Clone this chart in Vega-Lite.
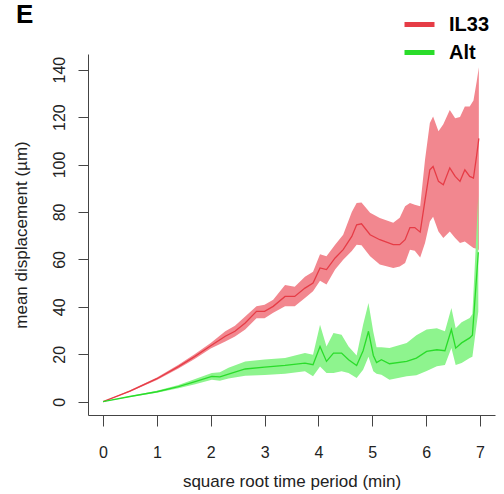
{
  "$schema": "https://vega.github.io/schema/vega-lite/v6.json",
  "width": 407,
  "height": 361,
  "autosize": "none",
  "padding": {"left": 88, "top": 54, "right": 9, "bottom": 79},
  "background": "white",
  "config": {"view": {"stroke": null}, "font": "Liberation Sans"},
  "title": {"text": "E", "anchor": "start", "frame": "group", "fontSize": 26, "fontWeight": "bold", "font": "Liberation Sans", "color": "black", "baseline": "alphabetic", "offset": 0, "dx": -72, "dy": 42},
  "data": {"values": [
    {"t": 0, "group": "IL33", "m": 0, "lo": 0, "hi": 0},
    {"t": 0.5, "group": "IL33", "m": 4.5, "lo": 4.2, "hi": 4.8},
    {"t": 1.0, "group": "IL33", "m": 9.7, "lo": 9.2, "hi": 10.2},
    {"t": 1.4, "group": "IL33", "m": 14.8, "lo": 14, "hi": 15.6},
    {"t": 1.7, "group": "IL33", "m": 19, "lo": 18, "hi": 20},
    {"t": 2.0, "group": "IL33", "m": 23.6, "lo": 22.4, "hi": 24.8},
    {"t": 2.27, "group": "IL33", "m": 27.6, "lo": 25.4, "hi": 29.7},
    {"t": 2.45, "group": "IL33", "m": 29.7, "lo": 27.5, "hi": 32},
    {"t": 2.64, "group": "IL33", "m": 33.2, "lo": 30.4, "hi": 35.9},
    {"t": 2.85, "group": "IL33", "m": 38.1, "lo": 35.2, "hi": 40.2},
    {"t": 3.0, "group": "IL33", "m": 38.1, "lo": 35.2, "hi": 40.9},
    {"t": 3.16, "group": "IL33", "m": 40.2, "lo": 37.5, "hi": 43},
    {"t": 3.38, "group": "IL33", "m": 44.4, "lo": 40.2, "hi": 49.2},
    {"t": 3.56, "group": "IL33", "m": 44.4, "lo": 40.2, "hi": 48.5},
    {"t": 3.75, "group": "IL33", "m": 47.9, "lo": 43.7, "hi": 52.7},
    {"t": 3.9, "group": "IL33", "m": 50, "lo": 46.6, "hi": 54.8},
    {"t": 4.03, "group": "IL33", "m": 56.4, "lo": 51, "hi": 62.2},
    {"t": 4.15, "group": "IL33", "m": 55.7, "lo": 49.4, "hi": 61.3},
    {"t": 4.31, "group": "IL33", "m": 60.6, "lo": 55.7, "hi": 66.2},
    {"t": 4.46, "group": "IL33", "m": 64.1, "lo": 59.9, "hi": 70.4},
    {"t": 4.62, "group": "IL33", "m": 69.7, "lo": 63.5, "hi": 80},
    {"t": 4.71, "group": "IL33", "m": 74.6, "lo": 66.2, "hi": 83.8},
    {"t": 4.8, "group": "IL33", "m": 75, "lo": 66, "hi": 84},
    {"t": 4.96, "group": "IL33", "m": 70.4, "lo": 61.3, "hi": 79.7},
    {"t": 5.14, "group": "IL33", "m": 68.3, "lo": 57.8, "hi": 77.5},
    {"t": 5.39, "group": "IL33", "m": 66.2, "lo": 56.4, "hi": 75.5},
    {"t": 5.51, "group": "IL33", "m": 66.2, "lo": 57, "hi": 77.6},
    {"t": 5.61, "group": "IL33", "m": 68.3, "lo": 58.5, "hi": 82.4},
    {"t": 5.7, "group": "IL33", "m": 73.4, "lo": 64.1, "hi": 83.8},
    {"t": 5.79, "group": "IL33", "m": 73.4, "lo": 63.6, "hi": 83},
    {"t": 5.89, "group": "IL33", "m": 71.5, "lo": 60.8, "hi": 82.4},
    {"t": 5.98, "group": "IL33", "m": 85, "lo": 66.9, "hi": 102},
    {"t": 6.07, "group": "IL33", "m": 97.8, "lo": 76, "hi": 117.5},
    {"t": 6.13, "group": "IL33", "m": 99.2, "lo": 78, "hi": 120.3},
    {"t": 6.23, "group": "IL33", "m": 92.9, "lo": 71.8, "hi": 114},
    {"t": 6.32, "group": "IL33", "m": 91.5, "lo": 69, "hi": 117},
    {"t": 6.44, "group": "IL33", "m": 98.6, "lo": 71.8, "hi": 123},
    {"t": 6.54, "group": "IL33", "m": 95, "lo": 69, "hi": 119.5},
    {"t": 6.63, "group": "IL33", "m": 92.9, "lo": 66.9, "hi": 120},
    {"t": 6.72, "group": "IL33", "m": 97.8, "lo": 67.6, "hi": 124.5},
    {"t": 6.81, "group": "IL33", "m": 95, "lo": 66, "hi": 124.5},
    {"t": 6.88, "group": "IL33", "m": 94.3, "lo": 64.8, "hi": 127},
    {"t": 6.94, "group": "IL33", "m": 104, "lo": 64.5, "hi": 135},
    {"t": 6.98, "group": "IL33", "m": 111, "lo": 64, "hi": 141},
    {"t": 0, "group": "Alt", "m": 0, "lo": 0, "hi": 0},
    {"t": 0.5, "group": "Alt", "m": 2.2, "lo": 2.0, "hi": 2.4},
    {"t": 1.0, "group": "Alt", "m": 4.2, "lo": 3.8, "hi": 4.6},
    {"t": 1.4, "group": "Alt", "m": 6.4, "lo": 5.7, "hi": 7.1},
    {"t": 1.71, "group": "Alt", "m": 8.5, "lo": 7.4, "hi": 9.6},
    {"t": 2.02, "group": "Alt", "m": 10.7, "lo": 9.3, "hi": 12.1},
    {"t": 2.17, "group": "Alt", "m": 10.5, "lo": 8.8, "hi": 12.4},
    {"t": 2.33, "group": "Alt", "m": 11.6, "lo": 9.8, "hi": 14.3},
    {"t": 2.64, "group": "Alt", "m": 13.8, "lo": 11, "hi": 17},
    {"t": 3.0, "group": "Alt", "m": 14.6, "lo": 11.3, "hi": 17.8},
    {"t": 3.38, "group": "Alt", "m": 15.3, "lo": 11.8, "hi": 18.4},
    {"t": 3.75, "group": "Alt", "m": 16.3, "lo": 12.8, "hi": 20.5},
    {"t": 3.9, "group": "Alt", "m": 15.6, "lo": 10.7, "hi": 19.8},
    {"t": 4.03, "group": "Alt", "m": 23.3, "lo": 14.9, "hi": 32.5},
    {"t": 4.15, "group": "Alt", "m": 17, "lo": 12.1, "hi": 23.3},
    {"t": 4.28, "group": "Alt", "m": 20.5, "lo": 12.1, "hi": 29},
    {"t": 4.43, "group": "Alt", "m": 20.5, "lo": 12.8, "hi": 28.2},
    {"t": 4.56, "group": "Alt", "m": 17.7, "lo": 12.1, "hi": 23.3},
    {"t": 4.71, "group": "Alt", "m": 15.3, "lo": 10, "hi": 19.5},
    {"t": 4.83, "group": "Alt", "m": 21.5, "lo": 13.5, "hi": 32.5},
    {"t": 4.93, "group": "Alt", "m": 29.7, "lo": 19, "hi": 41.6},
    {"t": 5.02, "group": "Alt", "m": 19.5, "lo": 12.8, "hi": 29.4},
    {"t": 5.08, "group": "Alt", "m": 16.5, "lo": 11.8, "hi": 23},
    {"t": 5.17, "group": "Alt", "m": 17.7, "lo": 11.4, "hi": 23},
    {"t": 5.32, "group": "Alt", "m": 16, "lo": 9.3, "hi": 22.6},
    {"t": 5.64, "group": "Alt", "m": 17, "lo": 10.7, "hi": 24.8},
    {"t": 5.82, "group": "Alt", "m": 18.4, "lo": 11.2, "hi": 28},
    {"t": 6.01, "group": "Alt", "m": 21.2, "lo": 13, "hi": 30.4},
    {"t": 6.2, "group": "Alt", "m": 21.9, "lo": 15, "hi": 31},
    {"t": 6.35, "group": "Alt", "m": 21.5, "lo": 15.5, "hi": 29.7},
    {"t": 6.47, "group": "Alt", "m": 30.4, "lo": 22.6, "hi": 39.5},
    {"t": 6.55, "group": "Alt", "m": 22.6, "lo": 15.5, "hi": 31},
    {"t": 6.66, "group": "Alt", "m": 24.8, "lo": 16.3, "hi": 33.5},
    {"t": 6.81, "group": "Alt", "m": 26.9, "lo": 18.4, "hi": 35.3},
    {"t": 6.86, "group": "Alt", "m": 28, "lo": 19, "hi": 37},
    {"t": 6.97, "group": "Alt", "m": 63, "lo": 38, "hi": 87}
  ]},
  "encoding": {
    "x": {"field": "t", "type": "quantitative",
      "scale": {"domain": [-0.28, 7.28], "nice": false, "zero": false},
      "axis": {"values": [0, 1, 2, 3, 4, 5, 6, 7], "title": "square root time period (min)", "grid": false,
        "domainColor": "#444", "tickColor": "#444", "tickSize": 11, "labelPadding": 18,
        "labelFontSize": 16, "labelColor": "#222", "labelFont": "Liberation Sans",
        "titleFontSize": 17, "titleFontWeight": "normal", "titleColor": "#222", "titleFont": "Liberation Sans",
        "titleBaseline": "alphabetic", "titleY": 71}}
  },
  "layer": [
    {"transform": [{"filter": "datum.group === 'IL33'"}],
     "mark": {"type": "area", "color": "#F2878F", "opacity": 1},
     "encoding": {"y": {"field": "lo", "type": "quantitative",
        "scale": {"domain": [-5.6, 146.6], "nice": false, "zero": false},
        "axis": {"values": [0, 20, 40, 60, 80, 100, 120, 140], "title": "mean displacement (µm)", "grid": false,
          "domainColor": "#444", "tickColor": "#444", "tickSize": 10, "labelPadding": 11,
          "labelAngle": 270, "labelFontSize": 16, "labelColor": "#222", "labelFont": "Liberation Sans",
          "titleFontSize": 17, "titleFontWeight": "normal", "titleColor": "#222", "titleFont": "Liberation Sans",
          "titleBaseline": "alphabetic", "titleX": -62}},
        "y2": {"field": "hi"}}},
    {"transform": [{"filter": "datum.group === 'Alt'"}],
     "mark": {"type": "area", "color": "#8EF48E", "opacity": 1},
     "encoding": {"y": {"field": "lo", "type": "quantitative"}, "y2": {"field": "hi"}}},
    {"mark": {"type": "line", "strokeWidth": 1.3},
     "encoding": {
       "y": {"field": "m", "type": "quantitative"},
       "color": {"field": "group", "type": "nominal",
         "scale": {"domain": ["IL33", "Alt"], "range": ["#E63C46", "#2ADC2A"]},
         "legend": {"title": null, "orient": "none", "legendX": 314, "legendY": -47,
           "symbolType": "stroke", "symbolSize": 900, "symbolStrokeWidth": 5,
           "labelFontSize": 20, "labelFontWeight": "bold", "labelFont": "Liberation Sans", "labelColor": "black",
           "labelOffset": 12, "rowPadding": -5, "padding": 0,
           "encode": {"symbols": {"update": {"stroke": {"signal": "datum.value === 'IL33' ? '#FF5454' : '#14D914'"}}}}}}
     }}
  ]
}
